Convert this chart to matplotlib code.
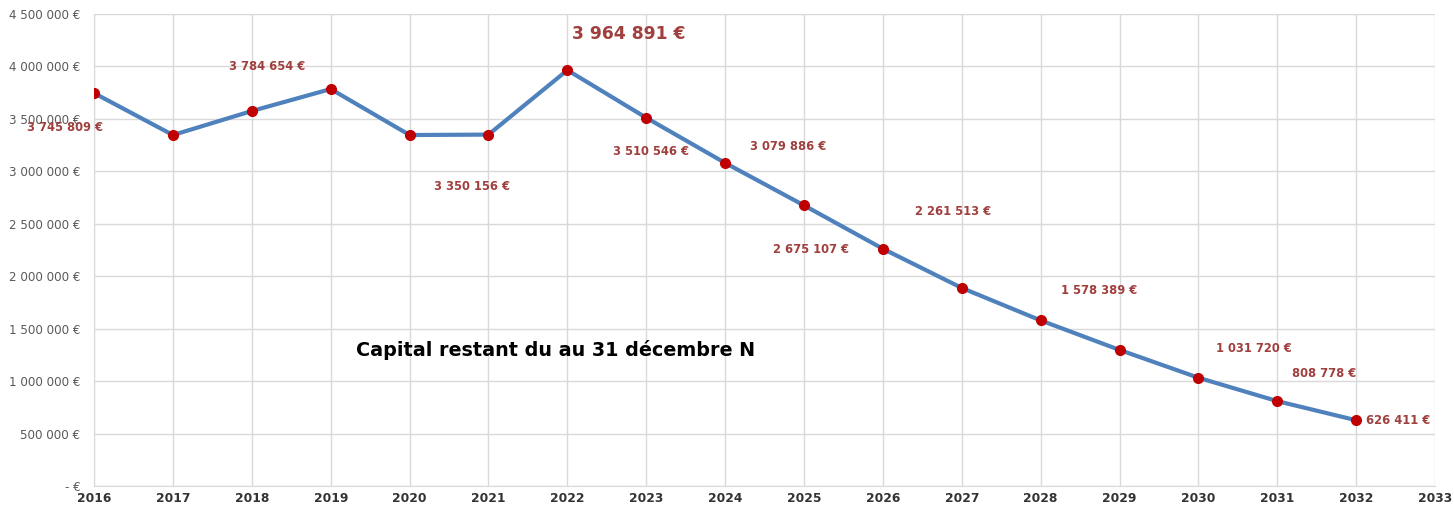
import numpy as np
import matplotlib.pyplot as plt
from matplotlib.ticker import FuncFormatter

years = list(range(2016, 2033))
capital = [3745809, 3346000, 3575000, 3784654, 3346000, 3350156, 3964891,
           3510546, 3079886, 2675107, 2261513, 1888000, 1578389, 1297000,
           1031720, 808778, 626411]

# which points get a value label, and where it sits (offset in pixels)
labelled = [2016, 2019, 2021, 2022, 2023, 2024, 2025, 2026, 2028, 2030, 2031, 2032]
offsets = {2016: (-29, -34), 2019: (-64, 23), 2021: (-16, -52), 2022: (61, 36),
           2023: (5, -34), 2024: (63, 16), 2025: (7, -44), 2026: (70, 37),
           2028: (58, 30), 2030: (55, 29), 2031: (47, 28), 2032: (42, 0)}

title = "Capital restant du au 31 décembre N"


def euro(v):
    if v == 0:
        return "- €"
    return f"{int(round(v)):,}".replace(",", " ") + " €"


fig = plt.figure(figsize=(14.54, 5.11), dpi=100)
ax = fig.add_axes([0.0647, 0.049, 0.9223, 0.9236])

ax.plot(years, capital, color="#4F81BD", lw=3, zorder=2)
ax.plot(years, capital, "o", color="#C00000", ms=7, zorder=3)

for yr, val in zip(years, capital):
    if yr not in labelled:
        continue
    big = yr == 2022
    ax.annotate(euro(val), (yr, val), xytext=offsets[yr], textcoords="offset pixels",
                ha="center", va="center", color="#A0403E", fontweight="bold",
                fontsize=12.3 if big else 8.3)

ax.text(0.344, 0.288, title, transform=ax.transAxes, ha="center", va="center",
        fontsize=13.8, fontweight="bold", color="black")

ax.set_xlim(2016, 2033)
ax.set_ylim(0, 4500000)
ax.set_xticks(range(2016, 2034))
ax.set_yticks(np.arange(0, 4500001, 500000))
ax.yaxis.set_major_formatter(FuncFormatter(lambda v, p: euro(v)))
ax.grid(True, color="#D9D9D9", lw=1)
ax.set_axisbelow(True)
ax.tick_params(length=0)
ax.tick_params(axis="y", labelsize=8.6, labelcolor="#595959", pad=10)
ax.tick_params(axis="x", labelsize=8.8, labelcolor="#333333", pad=4)
for lab in ax.get_xticklabels():
    lab.set_fontweight("bold")
for s in ["top", "right"]:
    ax.spines[s].set_visible(False)
for s in ["left", "bottom"]:
    ax.spines[s].set_color("#D9D9D9")

fig.savefig("out.png", dpi=100)
